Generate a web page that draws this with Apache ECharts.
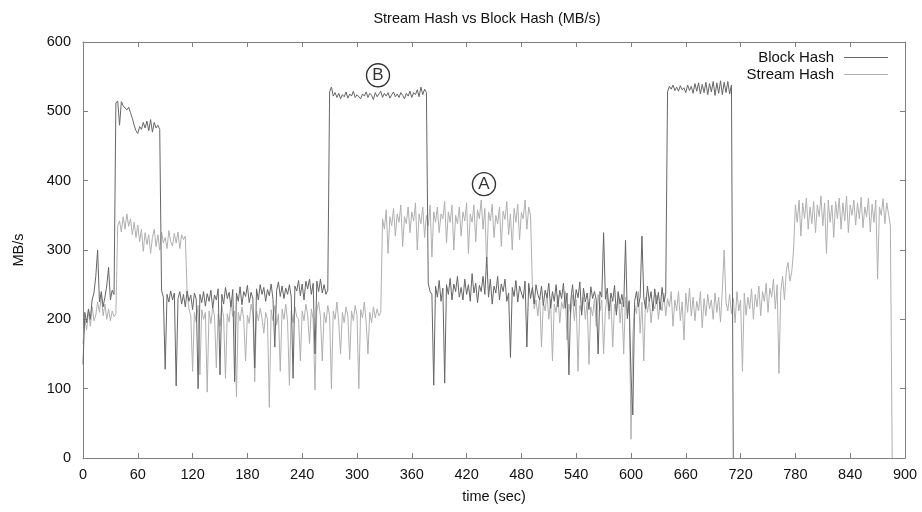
<!DOCTYPE html>
<html>
<head>
<meta charset="utf-8">
<script src="https://cdn.jsdelivr.net/npm/echarts@6/dist/echarts.min.js"></script>
<style>
html,body{margin:0;padding:0;background:#fff;}
#chart{width:922px;height:512px;}
</style>
</head>
<body>
<div id="chart"></div>
<script>
// sample times (sec)
var timeSec = [
0,2,4,6,8,10,12,14,16,18,20,22,24,26,28,30,32,34,36,38,40,42,44,46,48,50,52,54,56,58,
60,62,64,66,68,70,72,74,76,78,80,82,84,86,88,90,92,94,96,98,100,102,104,106,108,110,112,114,116,118,
120,122,124,126,128,130,132,134,136,138,140,142,144,146,148,150,152,154,156,158,160,162,164,166,168,170,172,174,176,178,
180,182,184,186,188,190,192,194,196,198,200,202,204,206,208,210,212,214,216,218,220,222,224,226,228,230,232,234,236,238,
240,242,244,246,248,250,252,254,256,258,260,262,264,266,268,270,272,274,276,278,280,282,284,286,288,290,292,294,296,298,
300,302,304,306,308,310,312,314,316,318,320,322,324,326,328,330,332,334,336,338,340,342,344,346,348,350,352,354,356,358,
360,362,364,366,368,370,372,374,376,378,380,382,384,386,388,390,392,394,396,398,400,402,404,406,408,410,412,414,416,418,
420,422,424,426,428,430,432,434,436,438,440,442,444,446,448,450,452,454,456,458,460,462,464,466,468,470,472,474,476,478,
480,482,484,486,488,490,492,494,496,498,500,502,504,506,508,510,512,514,516,518,520,522,524,526,528,530,532,534,536,538,
540,542,544,546,548,550,552,554,556,558,560,562,564,566,568,570,572,574,576,578,580,582,584,586,588,590,592,594,596,598,
600,602,604,606,608,610,612,614,616,618,620,622,624,626,628,630,632,634,636,638,640,642,644,646,648,650,652,654,656,658,
660,662,664,666,668,670,672,674,676,678,680,682,684,686,688,690,692,694,696,698,700,702,704,706,708,710,712,714,716,718,
720,722,724,726,728,730,732,734,736,738,740,742,744,746,748,750,752,754,756,758,760,762,764,766,768,770,772,774,776,778,
780,782,784,786,788,790,792,794,796,798,800,802,804,806,808,810,812,814,816,818,820,822,824,826,828,830,832,834,836,838,
840,842,844,846,848,850,852,854,856,858,860,862,864,866,868,870,872,874,876,878,880,882,884,886
];

// Block Hash (MB/s), t = 0 .. 712
var blockHash = [
135,210,195,215,200,228,238,262,300,225,240,218,232,248,275,228,242,236,
512,515,480,514,508,510,502,506,498,490,480,472,468,478,474,484,476,486,472,488,470,484,476,480,474,
242,232,128,236,225,241,228,238,104,230,
240,222,236,218,241,226,235,214,238,229,
100,236,224,240,219,237,226,242,216,235,
228,244,120,236,222,246,230,239,218,243,
110,238,226,247,221,240,233,249,224,239,
230,130,244,228,250,236,246,226,243,234,
251,229,160,242,254,233,248,230,245,236,
250,232,115,248,241,256,234,251,228,255,
244,258,236,252,150,255,240,258,238,250,
236,242,
528,535,522,527,520,526,518,524,521,528,
519,525,522,529,520,524,526,518,525,522,
528,520,526,523,517,527,521,525,529,520,
526,522,527,519,524,528,521,525,520,527,
523,518,526,522,529,520,527,524,531,521,
535,524,532,527,
252,240,236,105,248,232,256,226,245,108,
250,236,259,228,251,240,262,232,246,228,
258,236,250,226,266,238,252,224,249,240,
262,236,290,232,258,222,248,238,262,228,
251,240,258,226,238,145,246,233,256,225,
248,238,230,255,160,252,230,246,222,250,
236,228,248,220,242,231,252,216,240,226,
250,218,242,230,252,216,238,120,226,250,
219,243,231,254,206,245,225,238,214,247,
230,240,228,150,240,232,325,229,245,212,
238,226,249,206,240,222,236,218,314,201,
226,120,62,226,240,218,232,320,231,215,
248,226,240,212,244,222,239,214,246,225,
236,
528,536,532,538,530,535,529,537,531,534,
527,538,530,536,526,540,529,541,525,539,
527,542,524,540,528,543,523,541,526,544,
524,542,527,543,525,538,
0
];

// Stream Hash (MB/s), t = 0 .. 886
var streamHash = [
165,200,185,212,190,218,198,206,225,210,235,205,222,200,215,198,212,204,208,
335,342,326,348,330,352,334,345,322,340,
318,336,312,330,298,325,308,322,295,318,
330,305,322,300,326,310,318,302,328,312,
306,324,310,326,302,322,315,320,
240,215,205,125,210,196,220,120,214,200,
210,95,212,194,218,205,130,208,190,220,
202,115,208,196,225,204,212,88,210,198,
218,200,140,206,194,222,208,110,212,198,
216,202,180,210,200,73,214,198,220,192,
208,125,215,200,222,196,105,212,195,218,
204,200,140,212,198,222,206,165,215,200,
98,212,225,204,140,210,195,220,206,100,
212,200,225,196,150,210,195,218,205,142,
212,198,220,206,100,214,202,225,196,150,
210,195,218,202,215,205,210,
345,330,358,295,348,335,360,320,352,340,
365,305,348,338,362,325,355,342,368,300,
352,338,362,318,350,335,365,290,355,340,
362,325,352,345,370,310,355,340,365,300,
350,338,362,320,355,342,368,295,352,340,
365,312,358,345,372,330,360,275,355,342,
366,318,350,338,362,305,356,344,370,322,
352,300,360,340,366,315,354,345,372,330,
362,350,
250,215,228,205,232,160,225,212,238,200,
228,140,222,210,235,195,225,215,240,170,
222,208,235,198,228,125,220,210,232,200,
225,135,218,205,230,190,236,212,228,150,
215,235,200,228,160,222,210,238,195,225,
150,232,205,228,27,175,220,208,240,180,
225,140,232,210,228,195,222,215,235,200,
225,212,238,205,230,218,240,190,228,212,
240,198,225,170,238,210,245,205,232,198,
226,212,240,188,230,205,236,215,228,200,
238,210,232,196,242,300,225,212,236,208,
230,195,240,212,228,125,238,206,232,215,
244,200,236,218,248,205,240,226,252,210,
245,232,258,215,250,122,240,262,228,270,
282,255,268,
300,365,340,372,320,368,345,375,330,362,
338,370,325,365,348,378,335,368,295,372,
340,365,318,370,345,375,330,368,342,378,
325,365,350,372,336,368,345,376,332,362,
348,375,326,366,340,372,258,362,350,374,
338,368,352,335,
0
];

// axis ticks
var xTicks = [0,60,120,180,240,300,360,420,480,540,600,660,720,780,840,900];
var yTicks = [0,100,200,300,400,500,600];

// circled annotations: [time, MB/s, letter]
var annotations = [[323, 552, 'B'], [439, 395, 'A']];

function pairs(vals){
  var out = [];
  for (var i = 0; i < vals.length; i++) out.push([timeSec[i], vals[i]]);
  return out;
}

var chart = echarts.init(document.getElementById('chart'), null, {renderer:'canvas'});
var FONT = '"Liberation Sans", Arial, Helvetica, sans-serif';
var frameColor = '#808080';
var lineIcon = 'path://M0,0 L44,0 L44,1 L0,1 Z';

function axisCommon(){
  return {
    splitLine:{show:false},
    axisLine:{show:true, onZero:false, lineStyle:{color:frameColor, width:1}},
    axisTick:{show:true, inside:true, length:5, lineStyle:{color:frameColor}}
  };
}
var xBase = Object.assign({type:'value', min:xTicks[0], max:xTicks[xTicks.length-1], interval:60}, axisCommon());
var yBase = Object.assign({type:'value', min:yTicks[0], max:yTicks[yTicks.length-1], interval:100}, axisCommon());

chart.setOption({
  animation:false,
  backgroundColor:'#fff',
  textStyle:{fontFamily:FONT},
  title:{
    text:'Stream Hash vs Block Hash (MB/s)', left:482, textAlign:'center', top:6,
    textStyle:{fontSize:14.5, fontWeight:'normal', color:'#111', fontFamily:FONT}
  },
  legend:[
    {data:['Block Hash'], right:29, top:45, align:'right', icon:lineIcon,
     itemWidth:44, itemHeight:1, itemGap:0,
     textStyle:{fontSize:15, color:'#111', fontFamily:FONT, padding:[0,5,0,0]}},
    {data:['Stream Hash'], right:29, top:62, align:'right', icon:lineIcon,
     itemWidth:44, itemHeight:1, itemGap:0,
     textStyle:{fontSize:15, color:'#111', fontFamily:FONT, padding:[0,5,0,0]}}
  ],
  grid:{left:83, right:17, top:42, bottom:54, containLabel:false},
  xAxis:[
    Object.assign({}, xBase, {
      position:'bottom', name:'time (sec)', nameLocation:'middle', nameGap:31,
      nameTextStyle:{fontSize:14.5, color:'#111', fontFamily:FONT},
      axisLabel:{fontSize:14.5, color:'#111', margin:9, fontFamily:FONT}
    }),
    Object.assign({}, xBase, {position:'top', axisLabel:{show:false}})
  ],
  yAxis:[
    Object.assign({}, yBase, {
      position:'left', name:'MB/s', nameLocation:'middle', nameGap:57, nameRotate:90,
      nameTextStyle:{fontSize:14.5, color:'#111', fontFamily:FONT},
      axisLabel:{fontSize:14.5, color:'#111', margin:12, fontFamily:FONT}
    }),
    Object.assign({}, yBase, {position:'right', axisLabel:{show:false}})
  ],
  series:[
    {name:'Block Hash', type:'line', data:pairs(blockHash), showSymbol:false, symbol:'none',
     lineStyle:{color:'#666666', width:1}, itemStyle:{color:'#666666'}, z:3},
    {name:'Stream Hash', type:'line', data:pairs(streamHash), showSymbol:false, symbol:'none',
     lineStyle:{color:'#b0b0b0', width:1}, itemStyle:{color:'#b0b0b0'}, z:2},
    {name:'annot', type:'scatter', data:annotations.map(function(a){return {value:[a[0],a[1]], name:a[2]};}),
     symbol:'circle', symbolSize:23, silent:true, z:5,
     itemStyle:{color:'#fff', borderColor:'#000', borderWidth:1.4},
     label:{show:true, position:'inside', formatter:function(p){return p.name;},
            fontSize:17, color:'#000', fontFamily:FONT}}
  ]
});
</script>
</body>
</html>
